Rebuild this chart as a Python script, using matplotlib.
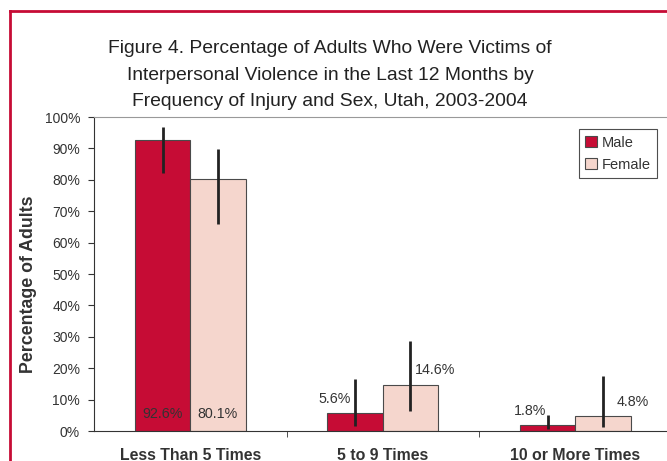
import matplotlib.pyplot as plt
from matplotlib.lines import Line2D
import numpy as np

plt.rcParams['font.family'] = ['Liberation Sans', 'DejaVu Sans']

categories = ['Less Than 5 Times', '5 to 9 Times', '10 or More Times']
male = [92.6, 5.6, 1.8]
female = [80.1, 14.6, 4.8]
male_lo = [82.3, 1.6, 0.6]
male_hi = [96.8, 16.5, 5.1]
female_lo = [65.9, 6.5, 1.2]
female_hi = [89.7, 28.7, 17.5]
yticks = [0, 10, 20, 30, 40, 50, 60, 70, 80, 90, 100]

red = '#C60C35'
pink = '#F5D6CD'
edge = '#4a4a4a'
txt = '#333333'

fig = plt.figure(figsize=(6.67, 4.61), dpi=100)
ax = fig.add_axes([94/667, 30/461, 577.5/667, 314/461])

x = np.arange(len(categories))
w = 0.288
m = np.array(male)
f = np.array(female)
ax.bar(x - w/2, m, w, color=red, edgecolor=edge, linewidth=0.8, label='Male', zorder=2)
ax.bar(x + w/2, f, w, color=pink, edgecolor=edge, linewidth=0.8, label='Female', zorder=2)
ax.errorbar(x - w/2, m, yerr=[m - np.array(male_lo), np.array(male_hi) - m],
            fmt='none', ecolor='#222222', elinewidth=2, capsize=0, zorder=3)
ax.errorbar(x + w/2, f, yerr=[f - np.array(female_lo), np.array(female_hi) - f],
            fmt='none', ecolor='#222222', elinewidth=2, capsize=0, zorder=3)

# value labels
fs = 10.3
ax.text(x[0] - w/2, 5.3, f'{male[0]}%', ha='center', va='center', fontsize=fs, color=txt, zorder=4)
ax.text(x[0] + w/2, 5.3, f'{female[0]}%', ha='center', va='center', fontsize=fs, color=txt, zorder=4)
ax.text(x[1] - w/2 - 0.105, 10.2, f'{male[1]}%', ha='center', va='center', fontsize=fs, color=txt)
ax.text(x[1] + w/2 + 0.13, 19.4, f'{female[1]}%', ha='center', va='center', fontsize=fs, color=txt)
ax.text(x[2] - w/2 - 0.09, 6.4, f'{male[2]}%', ha='center', va='center', fontsize=fs, color=txt)
ax.text(x[2] + w/2 + 0.155, 9.3, f'{female[2]}%', ha='center', va='center', fontsize=fs, color=txt)

ax.set_xlim(-0.5, 2.5)
ax.set_ylim(0, 100)
ax.set_yticks(yticks)
ax.set_yticklabels([f'{t}%' for t in yticks], fontsize=10, color=txt)
ax.set_xticks(x)
ax.set_xticklabels(categories, fontsize=11.4, fontweight='bold', color=txt)
ax.tick_params(axis='x', length=0, pad=12)
ax.set_xticks([0.5, 1.5], minor=True)
ax.tick_params(axis='x', which='minor', length=4, direction='out', color=txt)
ax.tick_params(axis='y', length=4, direction='out', color=txt, pad=6)
ax.set_ylabel('Percentage of Adults', fontsize=12.8, fontweight='bold', color=txt)
ax.yaxis.set_label_coords(-57/577.5, 0.468)
ax.spines['top'].set_color('#999999')
ax.spines['left'].set_color(txt)
ax.spines['bottom'].set_color(txt)
ax.spines['right'].set_visible(False)

leg = ax.legend(loc='upper right', bbox_to_anchor=(657/667, 1 - 129/461), bbox_transform=fig.transFigure,
                fontsize=10.5, frameon=True, fancybox=False, edgecolor='#222222',
                handlelength=0.8, handleheight=0.8, handletextpad=0.3, borderpad=0.45,
                labelspacing=0.55, borderaxespad=0)
leg.get_frame().set_linewidth(0.8)
for t in leg.get_texts():
    t.set_color(txt)

fig.text(0.495, 1 - 75/461, 'Figure 4. Percentage of Adults Who Were Victims of\n'
         'Interpersonal Violence in the Last 12 Months by\n'
         'Frequency of Injury and Sex, Utah, 2003-2004',
         ha='center', va='center', fontsize=13.9, color='#222222', linespacing=1.75)

# red frame on left and top
fig.add_artist(Line2D([10/667, 10/667], [0, 1 - 11/461], color=red, linewidth=2, transform=fig.transFigure))
fig.add_artist(Line2D([10/667, 1], [1 - 11/461, 1 - 11/461], color=red, linewidth=2, transform=fig.transFigure))

fig.savefig('out.png', dpi=100)
